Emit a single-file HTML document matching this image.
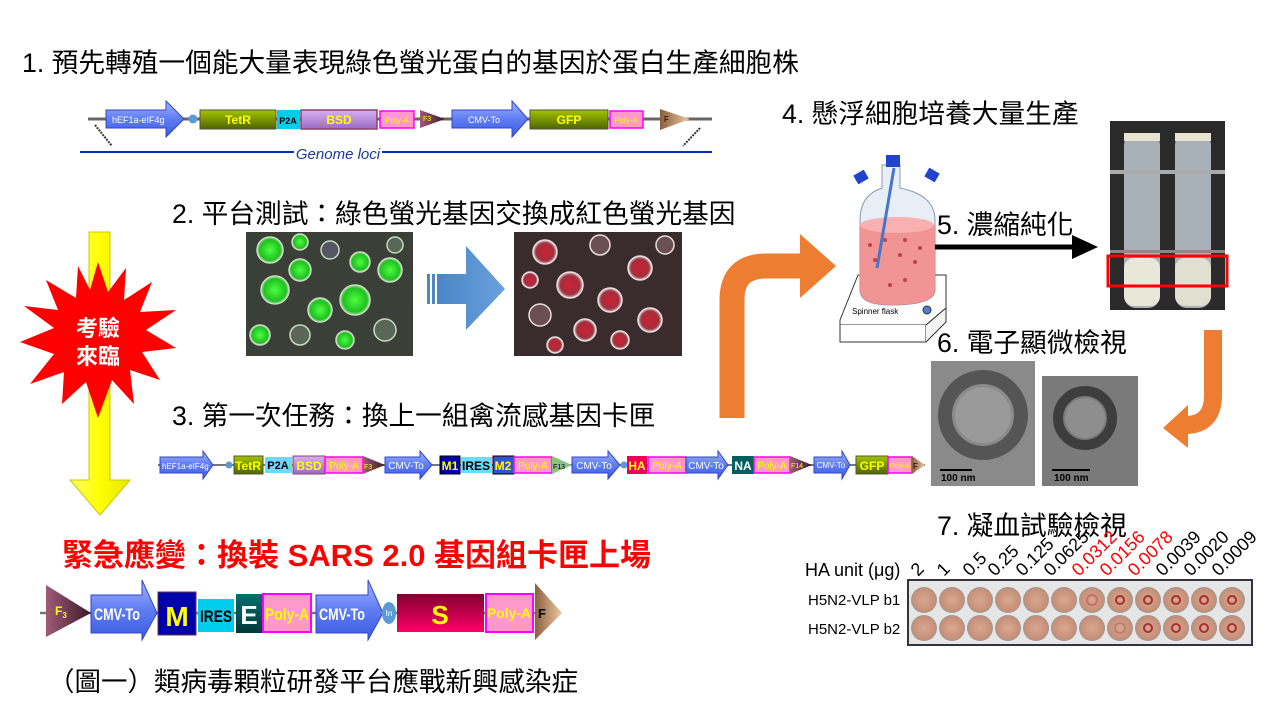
<!DOCTYPE html>
<html><head><meta charset="utf-8"><style>
html,body{margin:0;padding:0;background:#fff}
svg{display:block}
text{font-family:"Liberation Sans","Noto Sans CJK TC",sans-serif}
</style></head><body>
<svg width="1280" height="720" viewBox="0 0 1280 720" xmlns="http://www.w3.org/2000/svg">
<defs>
<linearGradient id="blue" x1="0" y1="0" x2="0" y2="1"><stop offset="0" stop-color="#9fb4ff"/><stop offset="0.5" stop-color="#5f7cf2"/><stop offset="1" stop-color="#3a5be0"/></linearGradient>
<linearGradient id="olive" x1="0" y1="0" x2="0" y2="1"><stop offset="0" stop-color="#a4c400"/><stop offset="1" stop-color="#4f6400"/></linearGradient>
<linearGradient id="purp" x1="0" y1="0" x2="0" y2="1"><stop offset="0" stop-color="#d8b0f0"/><stop offset="1" stop-color="#9a6ac4"/></linearGradient>
<linearGradient id="ftri" x1="0" y1="0" x2="1" y2="0"><stop offset="0" stop-color="#a05a7a"/><stop offset="1" stop-color="#3a1a2a"/></linearGradient>
<linearGradient id="ftan" x1="0" y1="0" x2="1" y2="0"><stop offset="0" stop-color="#8a6040"/><stop offset="1" stop-color="#f0c8a0"/></linearGradient>
<linearGradient id="sgrad" x1="0" y1="0" x2="0" y2="1"><stop offset="0" stop-color="#800030"/><stop offset="1" stop-color="#ff0066"/></linearGradient>
<linearGradient id="egrad" x1="0" y1="0" x2="0" y2="1"><stop offset="0" stop-color="#007070"/><stop offset="1" stop-color="#003838"/></linearGradient>
<linearGradient id="yel" x1="0" y1="0" x2="1" y2="0"><stop offset="0" stop-color="#ffff66"/><stop offset="0.5" stop-color="#ffff00"/><stop offset="1" stop-color="#e6e600"/></linearGradient>
<linearGradient id="barrow" x1="0" y1="0" x2="1" y2="0"><stop offset="0" stop-color="#4a86c8"/><stop offset="1" stop-color="#6aa0dc"/></linearGradient>
<radialGradient id="well" cx="0.5" cy="0.5" r="0.5"><stop offset="0" stop-color="#d8a890"/><stop offset="0.85" stop-color="#c89078"/><stop offset="1" stop-color="#999"/></radialGradient>
<radialGradient id="gcell" cx="0.5" cy="0.5" r="0.5"><stop offset="0" stop-color="#4cff40"/><stop offset="0.8" stop-color="#20c020"/><stop offset="1" stop-color="#aaddaa"/></radialGradient>
<radialGradient id="rcell" cx="0.5" cy="0.5" r="0.5"><stop offset="0" stop-color="#d02030"/><stop offset="0.75" stop-color="#a03040"/><stop offset="1" stop-color="#e0d0d0"/></radialGradient>
</defs>

<text x="22" y="72" font-size="26.7">1. 預先轉殖一個能大量表現綠色螢光蛋白的基因於蛋白生產細胞株</text>

<line x1="88" y1="119" x2="712" y2="119" stroke="#666" stroke-width="3"/>
<path d="M106,110 H166 V101 L184,119 L166,137 V128 H106 Z" fill="url(#blue)" stroke="#3344cc"/>
<text x="112" y="123" font-size="9" fill="#fff">hEF1a-eIF4g</text>
<circle cx="193" cy="119" r="4.5" fill="#5b9bd5"/>
<rect x="200" y="110" width="76" height="19" fill="url(#olive)" stroke="#553"/>
<text x="238" y="124" font-size="12" font-weight="bold" fill="#ff0" text-anchor="middle">TetR</text>
<rect x="277" y="110" width="23" height="19" fill="#00ccee"/>
<text x="288" y="124" font-size="9" font-weight="bold" text-anchor="middle">P2A</text>
<rect x="301" y="110" width="76" height="19" fill="url(#purp)" stroke="#884466" stroke-width="1.5"/>
<text x="339" y="124" font-size="12" font-weight="bold" fill="#ff0" text-anchor="middle">BSD</text>
<rect x="380" y="111" width="34" height="17" fill="#ff99cc" stroke="#ff00ff" stroke-width="1.5"/>
<text x="397" y="123" font-size="8" fill="#ff0" text-anchor="middle">Poly-A</text>
<path d="M420,110 L445,119 L420,128 Z" fill="url(#ftri)"/>
<text x="423" y="121" font-size="7" fill="#ff0">F3</text>
<path d="M452,110 H512 V101 L528,119 L512,137 V128 H452 Z" fill="url(#blue)" stroke="#3344cc"/>
<text x="484" y="123" font-size="9" fill="#fff" text-anchor="middle">CMV-To</text>
<rect x="530" y="110" width="78" height="19" fill="url(#olive)" stroke="#553"/>
<text x="569" y="124" font-size="12" font-weight="bold" fill="#ff0" text-anchor="middle">GFP</text>
<rect x="610" y="111" width="33" height="17" fill="#ff99cc" stroke="#ff00ff" stroke-width="1.5"/>
<text x="626" y="123" font-size="8" fill="#ff0" text-anchor="middle">Poly-A</text>
<path d="M660,109 L690,119 L660,130 Z" fill="url(#ftan)"/>
<text x="664" y="122" font-size="8">F</text>
<line x1="95" y1="125" x2="112" y2="146" stroke="#333" stroke-width="2" stroke-dasharray="2,1"/>
<line x1="700" y1="128" x2="683" y2="146" stroke="#333" stroke-width="2" stroke-dasharray="2,1"/>
<line x1="80" y1="152" x2="294" y2="152" stroke="#0033bb" stroke-width="2"/>
<line x1="382" y1="152" x2="712" y2="152" stroke="#0033bb" stroke-width="2"/>
<text x="338" y="159" font-size="15" font-style="italic" fill="#1a3a99" text-anchor="middle" font-family="Liberation Serif">Genome loci</text>

<text x="172" y="223" font-size="26.7">2. 平台測試：綠色螢光基因交換成紅色螢光基因</text>

<rect x="246" y="232" width="167" height="124" fill="#3a3f38"/>
<g stroke="#c8dcc0" stroke-width="1.5">
<circle cx="270" cy="250" r="13" fill="url(#gcell)"/><circle cx="300" cy="270" r="11" fill="url(#gcell)"/>
<circle cx="330" cy="250" r="9" fill="#556"/><circle cx="355" cy="300" r="15" fill="url(#gcell)"/>
<circle cx="275" cy="290" r="14" fill="url(#gcell)"/><circle cx="320" cy="310" r="12" fill="url(#gcell)"/>
<circle cx="390" cy="270" r="12" fill="url(#gcell)"/><circle cx="385" cy="330" r="11" fill="#5a6658"/>
<circle cx="260" cy="335" r="10" fill="url(#gcell)"/><circle cx="300" cy="335" r="10" fill="#5a6658"/>
<circle cx="345" cy="340" r="9" fill="url(#gcell)"/><circle cx="395" cy="245" r="8" fill="#5a6658"/>
<circle cx="360" cy="262" r="10" fill="url(#gcell)"/><circle cx="300" cy="242" r="8" fill="url(#gcell)"/>
</g>
<rect x="427" y="274" width="3" height="30" fill="#4a86c8"/>
<rect x="432" y="274" width="3" height="30" fill="#4a86c8"/>
<path d="M437,274 H466 V246 L505,289 L466,330 V304 H437 Z" fill="url(#barrow)"/>
<rect x="514" y="232" width="168" height="124" fill="#3a2c2c"/>
<g stroke="#e8dede" stroke-width="1.5">
<circle cx="545" cy="252" r="12" fill="url(#rcell)"/><circle cx="600" cy="245" r="10" fill="#6a5050"/>
<circle cx="640" cy="268" r="12" fill="url(#rcell)"/><circle cx="570" cy="285" r="13" fill="url(#rcell)"/>
<circle cx="610" cy="300" r="12" fill="url(#rcell)"/><circle cx="540" cy="315" r="11" fill="#6a5050"/>
<circle cx="650" cy="320" r="12" fill="url(#rcell)"/><circle cx="585" cy="330" r="11" fill="url(#rcell)"/>
<circle cx="620" cy="340" r="9" fill="url(#rcell)"/><circle cx="665" cy="245" r="9" fill="#6a5050"/>
<circle cx="530" cy="280" r="8" fill="url(#rcell)"/><circle cx="555" cy="345" r="8" fill="url(#rcell)"/>
</g>

<path d="M89,232 H110 V480 H130 L100,515 L70,480 H89 Z" fill="url(#yel)" stroke="#c8c800"/>
<polygon fill="#ff0000" points="98,262 108,292 126,268 124,300 152,282 140,312 176,310 146,330 176,348 142,352 160,380 130,370 134,404 112,380 98,418 86,382 62,404 64,372 30,384 54,354 20,342 54,328 24,306 58,310 46,280 76,298 78,266 90,290"/>
<text x="98" y="336" font-size="22" font-weight="bold" fill="#fff" text-anchor="middle">考驗</text>
<text x="98" y="364" font-size="22" font-weight="bold" fill="#fff" text-anchor="middle">來臨</text>

<text x="172" y="425" font-size="26.7">3. 第一次任務：換上一組禽流感基因卡匣</text>

<line x1="158" y1="465" x2="925" y2="465" stroke="#777" stroke-width="2"/>
<g font-size="10">
<path d="M160,457 H203 V451 L213,465 L203,479 V473 H160 Z" fill="url(#blue)" stroke="#3344cc"/>
<text x="162" y="469" font-size="8" fill="#fff">hEF1a-eIF4g</text>
<circle cx="229" cy="465" r="3.5" fill="#5b9bd5"/>
<rect x="234" y="456" width="29" height="18" fill="url(#olive)" stroke="#553"/>
<text x="248" y="470" font-size="12" font-weight="bold" fill="#ff0" text-anchor="middle">TetR</text>
<rect x="265" y="457" width="27" height="16" fill="#66ddff"/>
<text x="278" y="469" font-size="11" font-weight="bold" text-anchor="middle">P2A</text>
<rect x="293" y="456" width="32" height="18" fill="url(#purp)" stroke="#884466"/>
<text x="309" y="470" font-size="12" font-weight="bold" fill="#ff0" text-anchor="middle">BSD</text>
<rect x="325" y="457" width="38" height="16" fill="#ff99cc" stroke="#ff00ff" stroke-width="1.5"/>
<text x="344" y="469" font-size="10" fill="#ff0" text-anchor="middle">Poly-A</text>
<path d="M363,456 L385,465 L363,474 Z" fill="url(#ftri)"/><text x="364" y="469" font-size="7" fill="#ff0">F3</text>
<path d="M385,457 H420 V451 L432,465 L420,479 V473 H385 Z" fill="url(#blue)" stroke="#3344cc"/>
<text x="406" y="469" fill="#fff" text-anchor="middle">CMV-To</text>
<rect x="440" y="456" width="20" height="18" fill="#0000aa" stroke="#000"/>
<text x="450" y="470" font-size="12" font-weight="bold" fill="#ff0" text-anchor="middle">M1</text>
<rect x="461" y="457" width="31" height="16" fill="#66ddff"/>
<text x="476" y="470" font-size="12" font-weight="bold" text-anchor="middle">IRES</text>
<rect x="493" y="456" width="21" height="18" fill="#3355cc" stroke="#000"/>
<text x="503" y="470" font-size="12" font-weight="bold" fill="#ff0" text-anchor="middle">M2</text>
<rect x="514" y="457" width="38" height="16" fill="#ff99cc" stroke="#ff00ff" stroke-width="1.5"/>
<text x="533" y="469" fill="#ff0" text-anchor="middle">Poly-A</text>
<path d="M552,456 L572,465 L552,474 Z" fill="#8ac08a"/><text x="553" y="469" font-size="7">F13</text>
<path d="M572,457 H608 V451 L620,465 L608,479 V473 H572 Z" fill="url(#blue)" stroke="#3344cc"/>
<text x="594" y="469" fill="#fff" text-anchor="middle">CMV-To</text>
<circle cx="624" cy="465" r="3.5" fill="#5b9bd5"/>
<rect x="627" y="456" width="20" height="18" fill="#ee0055"/>
<text x="637" y="470" font-size="12" font-weight="bold" fill="#ff0" text-anchor="middle">HA</text>
<rect x="648" y="457" width="38" height="16" fill="#ff99cc" stroke="#ff00ff" stroke-width="1.5"/>
<text x="667" y="469" fill="#ff0" text-anchor="middle">Poly-A</text>
<path d="M686,457 H718 V451 L728,465 L718,479 V473 H686 Z" fill="url(#blue)" stroke="#3344cc"/>
<text x="706" y="469" fill="#fff" text-anchor="middle">CMV-To</text>
<rect x="732" y="456" width="22" height="18" fill="#006060"/>
<text x="743" y="470" font-size="12" font-weight="bold" fill="#fff" text-anchor="middle">NA</text>
<rect x="754" y="457" width="36" height="16" fill="#ff99cc" stroke="#ff00ff" stroke-width="1.5"/>
<text x="772" y="469" fill="#ff0" text-anchor="middle">Poly-A</text>
<path d="M790,456 L812,465 L790,474 Z" fill="url(#ftri)"/><text x="791" y="468" font-size="7" fill="#ff0">F14</text>
<path d="M814,457 H842 V451 L850,465 L842,479 V473 H814 Z" fill="url(#blue)" stroke="#3344cc"/>
<text x="831" y="468" font-size="8" fill="#fff" text-anchor="middle">CMV-To</text>
<rect x="856" y="456" width="32" height="18" fill="url(#olive)" stroke="#553"/>
<text x="872" y="470" font-size="12" font-weight="bold" fill="#ff0" text-anchor="middle">GFP</text>
<rect x="888" y="457" width="24" height="16" fill="#ff99cc" stroke="#ff00ff" stroke-width="1.5"/>
<text x="900" y="468" font-size="7" fill="#ff0" text-anchor="middle">Poly-A</text>
<path d="M912,456 L925,465 L912,474 Z" fill="url(#ftan)"/><text x="913" y="469" font-size="8">F</text>
</g>

<path d="M732,418 V300 Q732,266 766,266 H806" fill="none" stroke="#ed7d31" stroke-width="25"/>
<path d="M800,234 L836,266 L800,298 Z" fill="#ed7d31"/>

<text x="782" y="123" font-size="26.7">4. 懸浮細胞培養大量生產</text>

<g>
<path d="M840,320 L858,275 H946 L946,308 L926,325 H840 Z" fill="#fff" stroke="#333"/>
<path d="M840,325 V342 H926 V325" fill="#fff" stroke="#333"/>
<path d="M926,325 L946,308 V322 L926,342" fill="#f4f4f4" stroke="#333"/>
<text x="852" y="314" font-size="8">Spinner  flask</text>
<circle cx="927" cy="310" r="4" fill="#4a80d0" stroke="#333"/>
<path d="M882,165 H900 V188 Q935,195 935,220 V290 Q935,305 891,305 Q860,305 860,290 V220 Q860,195 882,188 Z" fill="#e8eef6" stroke="#8899aa"/>
<path d="M860,225 Q897,212 935,225 V290 Q935,305 891,305 Q860,305 860,290 Z" fill="#f28a8a" opacity="0.9"/>
<ellipse cx="897" cy="225" rx="37" ry="8" fill="#f8b0b0"/>
<rect x="886" y="155" width="14" height="12" fill="#2244cc"/>
<rect x="855" y="172" width="12" height="10" fill="#2244cc" transform="rotate(-30 861 177)"/>
<rect x="926" y="170" width="12" height="10" fill="#2244cc" transform="rotate(30 932 175)"/>
<line x1="894" y1="168" x2="877" y2="268" stroke="#4477cc" stroke-width="3"/>
<g fill="#c04050"><circle cx="870" cy="245" r="2"/><circle cx="885" cy="240" r="2"/><circle cx="905" cy="240" r="2"/><circle cx="920" cy="248" r="2"/><circle cx="875" cy="260" r="2"/><circle cx="900" cy="255" r="2"/><circle cx="915" cy="262" r="2"/><circle cx="890" cy="285" r="2"/><circle cx="905" cy="280" r="2"/></g>
</g>

<text x="937" y="234" font-size="26.7">5. 濃縮純化</text>
<line x1="935" y1="247" x2="1075" y2="247" stroke="#000" stroke-width="5"/>
<path d="M1072,235 L1098,247 L1072,259 Z" fill="#000"/>

<rect x="1110" y="121" width="115" height="189" fill="#2a2a2a"/>
<rect x="1124" y="133" width="36" height="175" rx="12" fill="#a8b0b8"/>
<rect x="1175" y="133" width="36" height="175" rx="12" fill="#a8b0b8"/>
<rect x="1124" y="133" width="36" height="8" fill="#e8e4d0"/>
<rect x="1175" y="133" width="36" height="8" fill="#e8e4d0"/>
<rect x="1110" y="170" width="115" height="4" fill="#aaa"/>
<rect x="1110" y="250" width="115" height="3" fill="#888"/>
<rect x="1124" y="258" width="36" height="48" rx="10" fill="#e8e8d8"/>
<rect x="1175" y="258" width="36" height="48" rx="10" fill="#e0e0d0"/>
<rect x="1108" y="256" width="119" height="30" fill="none" stroke="#ff0000" stroke-width="3"/>

<text x="937" y="352" font-size="26.7">6. 電子顯微檢視</text>
<rect x="931" y="361" width="104" height="125" fill="#8a8a8a"/>
<circle cx="983" cy="415" r="38" fill="none" stroke="#555" stroke-width="14"/>
<circle cx="983" cy="415" r="28" fill="#9a9a9a"/>
<line x1="940" y1="470" x2="972" y2="470" stroke="#000" stroke-width="2"/>
<text x="941" y="481" font-size="10" font-weight="bold">100 nm</text>
<rect x="1042" y="376" width="96" height="110" fill="#7a7a7a"/>
<circle cx="1085" cy="418" r="27" fill="none" stroke="#3d3d3d" stroke-width="10"/>
<circle cx="1085" cy="418" r="20" fill="#8e8e8e"/>
<line x1="1052" y1="470" x2="1090" y2="470" stroke="#000" stroke-width="2"/>
<text x="1054" y="481" font-size="10" font-weight="bold">100 nm</text>

<path d="M1213,330 V395 Q1213,425 1185,425 H1185" fill="none" stroke="#ed7d31" stroke-width="18"/>
<path d="M1188,405 L1163,428 L1188,448 Z" fill="#ed7d31"/>

<text x="937" y="535" font-size="26.7">7. 凝血試驗檢視</text>
<text x="805" y="576" font-size="18">HA unit (μg)</text>
<g font-size="18">
<text transform="translate(918,577) rotate(-45)">2</text>
<text transform="translate(944,577) rotate(-45)">1</text>
<text transform="translate(970,577) rotate(-45)">0.5</text>
<text transform="translate(995,577) rotate(-45)">0.25</text>
<text transform="translate(1023,577) rotate(-45)">0.125</text>
<text transform="translate(1051,577) rotate(-45)">0.0625</text>
<text transform="translate(1079,577) rotate(-45)" fill="#ff0000">0.0312</text>
<text transform="translate(1107,577) rotate(-45)" fill="#ff0000">0.0156</text>
<text transform="translate(1135,577) rotate(-45)" fill="#ff0000">0.0078</text>
<text transform="translate(1163,577) rotate(-45)">0.0039</text>
<text transform="translate(1191,577) rotate(-45)">0.0020</text>
<text transform="translate(1219,577) rotate(-45)">0.0009</text>
</g>
<text x="808" y="605" font-size="15">H5N2-VLP b1</text>
<text x="808" y="634" font-size="15">H5N2-VLP b2</text>
<rect x="908" y="580" width="344" height="65" fill="#e6e6e6" stroke="#334" stroke-width="2"/>
<g>
<circle cx="924" cy="600" r="13" fill="url(#well)"/><circle cx="952" cy="600" r="13" fill="url(#well)"/><circle cx="980" cy="600" r="13" fill="url(#well)"/><circle cx="1008" cy="600" r="13" fill="url(#well)"/><circle cx="1036" cy="600" r="13" fill="url(#well)"/><circle cx="1064" cy="600" r="13" fill="url(#well)"/><circle cx="1092" cy="600" r="13" fill="url(#well)"/><circle cx="1120" cy="600" r="13" fill="url(#well)"/><circle cx="1148" cy="600" r="13" fill="url(#well)"/><circle cx="1176" cy="600" r="13" fill="url(#well)"/><circle cx="1204" cy="600" r="13" fill="url(#well)"/><circle cx="1232" cy="600" r="13" fill="url(#well)"/>
<circle cx="924" cy="628" r="13" fill="url(#well)"/><circle cx="952" cy="628" r="13" fill="url(#well)"/><circle cx="980" cy="628" r="13" fill="url(#well)"/><circle cx="1008" cy="628" r="13" fill="url(#well)"/><circle cx="1036" cy="628" r="13" fill="url(#well)"/><circle cx="1064" cy="628" r="13" fill="url(#well)"/><circle cx="1092" cy="628" r="13" fill="url(#well)"/><circle cx="1120" cy="628" r="13" fill="url(#well)"/><circle cx="1148" cy="628" r="13" fill="url(#well)"/><circle cx="1176" cy="628" r="13" fill="url(#well)"/><circle cx="1204" cy="628" r="13" fill="url(#well)"/><circle cx="1232" cy="628" r="13" fill="url(#well)"/>
</g>
<g fill="none" stroke="#a83030" stroke-width="2">
<circle cx="1092" cy="600" r="5" stroke="#c87060"/><circle cx="1120" cy="600" r="4"/><circle cx="1148" cy="600" r="4"/><circle cx="1176" cy="600" r="4"/><circle cx="1204" cy="600" r="4"/><circle cx="1232" cy="600" r="4"/>
<circle cx="1120" cy="628" r="5" stroke="#c08070"/><circle cx="1148" cy="628" r="4"/><circle cx="1176" cy="628" r="4"/><circle cx="1204" cy="628" r="4"/><circle cx="1232" cy="628" r="4"/>
</g>

<text x="62" y="566" font-size="31" font-weight="bold" fill="#ff0000">緊急應變：換裝 SARS 2.0 基因組卡匣上場</text>

<line x1="40" y1="613" x2="560" y2="613" stroke="#777" stroke-width="2.5"/>
<path d="M46,585 L91,613 L46,637 Z" fill="url(#ftri)"/>
<text x="55" y="615" font-size="12" fill="#ff0" font-weight="bold">F<tspan font-size="8" dy="3">3</tspan></text>
<path d="M91,595 H142 V580 L157,613 L142,640 V633 H91 Z" fill="url(#blue)" stroke="#3344cc"/>
<text x="94" y="620" font-size="17" font-weight="bold" fill="#fff" textLength="46" lengthAdjust="spacingAndGlyphs">CMV-To</text>
<rect x="158" y="592" width="38" height="43" fill="#0000aa" stroke="#663344"/>
<text x="177" y="626" font-size="28" font-weight="bold" fill="#ff0" text-anchor="middle">M</text>
<rect x="198" y="599" width="36" height="33" fill="#00ccee"/>
<text x="200" y="622" font-size="17" font-weight="bold" textLength="32" lengthAdjust="spacingAndGlyphs">IRES</text>
<rect x="236" y="594" width="26" height="39" fill="url(#egrad)"/>
<text x="249" y="624" font-size="26" font-weight="bold" fill="#fff" text-anchor="middle">E</text>
<rect x="263" y="594" width="48" height="38" fill="#ff99cc" stroke="#ff00ff" stroke-width="2"/>
<text x="265" y="620" font-size="17" font-weight="bold" fill="#ff0" textLength="44" lengthAdjust="spacingAndGlyphs">Poly-A</text>
<path d="M316,595 H368 V580 L383,613 L368,640 V633 H316 Z" fill="url(#blue)" stroke="#3344cc"/>
<text x="319" y="620" font-size="17" font-weight="bold" fill="#fff" textLength="46" lengthAdjust="spacingAndGlyphs">CMV-To</text>
<ellipse cx="389" cy="613" rx="7" ry="11" fill="#5b9bd5"/>
<text x="389" y="616" font-size="8" fill="#fff" text-anchor="middle">In</text>
<rect x="397" y="594" width="87" height="38" fill="url(#sgrad)"/>
<text x="440" y="624" font-size="26" font-weight="bold" fill="#ff0" text-anchor="middle">S</text>
<rect x="486" y="594" width="47" height="38" fill="#ff99cc" stroke="#ff00ff" stroke-width="2"/>
<text x="509" y="618" font-size="14" font-weight="bold" fill="#ff0" text-anchor="middle">Poly-A</text>
<path d="M535,583 L562,613 L535,640 Z" fill="url(#ftan)"/>
<text x="538" y="618" font-size="13" font-weight="bold">F</text>

<text x="48" y="691" font-size="26.5">（圖一）類病毒顆粒研發平台應戰新興感染症</text>
</svg>
</body></html>
